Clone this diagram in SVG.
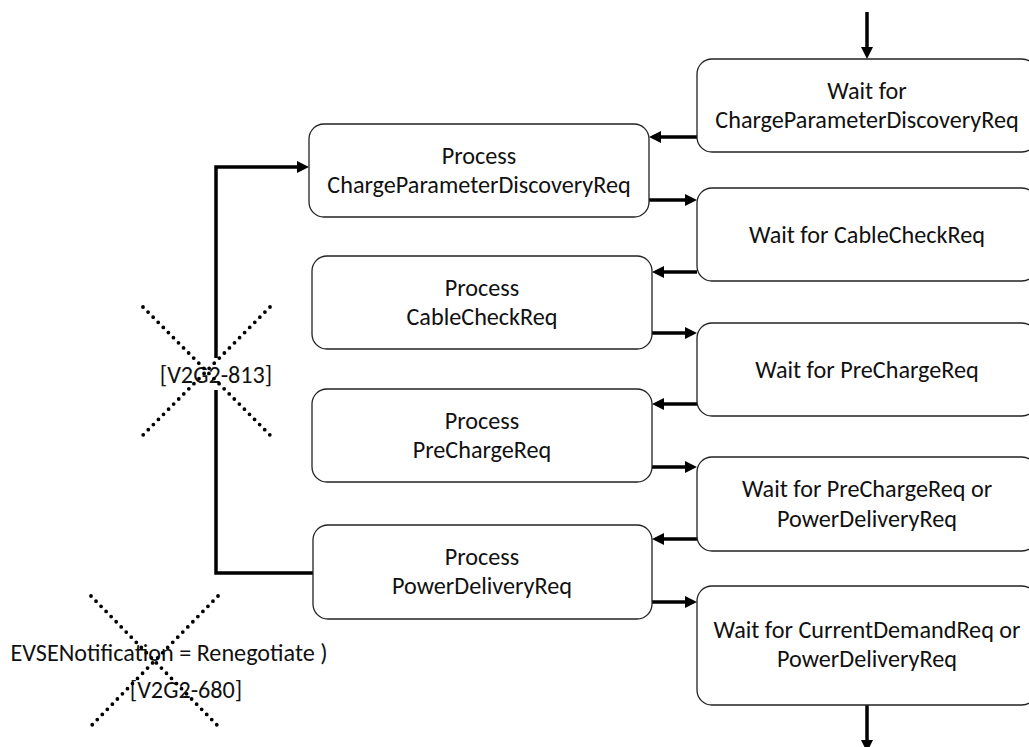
<svg xmlns="http://www.w3.org/2000/svg" width="1029" height="747" viewBox="0 0 1029 747">
<style>
.box{fill:#fff;stroke:#222;stroke-width:1.3}
.t{font-family:Carlito,Calibri,Lato,"Liberation Sans",sans-serif;font-size:24.2px;fill:#111;text-anchor:middle}
.c{fill:none;stroke:#000;stroke-width:3.5}
.x{fill:none;stroke:#000;stroke-width:3.8;stroke-linecap:round;stroke-dasharray:0 7.2}
</style>
<defs>
<marker id="ah" markerUnits="userSpaceOnUse" markerWidth="12" markerHeight="12" refX="4" refY="6" orient="auto">
<path d="M0,0 L12,6 L0,12 z" fill="#000"/>
</marker>
</defs>
<rect width="1029" height="747" fill="#fff"/>
<g id="connectors">
<path class="c" d="M867,12 V51" marker-end="url(#ah)"/>
<path class="c" d="M867,705 V744" marker-end="url(#ah)"/>
<path class="c" d="M697,137 H657" marker-end="url(#ah)"/>
<path class="c" d="M649,200 H689" marker-end="url(#ah)"/>
<path class="c" d="M697,272 H660" marker-end="url(#ah)"/>
<path class="c" d="M652,333 H689" marker-end="url(#ah)"/>
<path class="c" d="M697,404 H660" marker-end="url(#ah)"/>
<path class="c" d="M652,467 H689" marker-end="url(#ah)"/>
<path class="c" d="M697,539 H660" marker-end="url(#ah)"/>
<path class="c" d="M652,602 H689" marker-end="url(#ah)"/>
<path class="c" d="M313,573 H216 V167 H301" marker-end="url(#ah)"/>
</g>
<g id="wait-cpd"><rect class="box" x="697" y="59" width="340" height="93" rx="15"/>
<text class="t" x="867" y="99">Wait for</text><text class="t" x="867" y="128">ChargeParameterDiscoveryReq</text></g>
<g id="wait-cc"><rect class="box" x="697" y="188" width="340" height="93" rx="15"/>
<text class="t" x="867" y="243">Wait for CableCheckReq</text></g>
<g id="wait-pc"><rect class="box" x="697" y="323" width="340" height="93" rx="15"/>
<text class="t" x="867" y="378">Wait for PreChargeReq</text></g>
<g id="wait-pcpd"><rect class="box" x="697" y="457" width="340" height="94" rx="15"/>
<text class="t" x="867" y="497">Wait for PreChargeReq or</text><text class="t" x="867" y="527">PowerDeliveryReq</text></g>
<g id="wait-cd"><rect class="box" x="697" y="586" width="340" height="119" rx="15"/>
<text class="t" x="867" y="638">Wait for CurrentDemandReq or</text><text class="t" x="867" y="667">PowerDeliveryReq</text></g>
<g id="proc-cpd"><rect class="box" x="309" y="124" width="340" height="93" rx="15"/>
<text class="t" x="479" y="164">Process</text><text class="t" x="479" y="193">ChargeParameterDiscoveryReq</text></g>
<g id="proc-cc"><rect class="box" x="312" y="256" width="340" height="93" rx="15"/>
<text class="t" x="482" y="296">Process</text><text class="t" x="482" y="325">CableCheckReq</text></g>
<g id="proc-pc"><rect class="box" x="312" y="389" width="340" height="93" rx="15"/>
<text class="t" x="482" y="429">Process</text><text class="t" x="482" y="458">PreChargeReq</text></g>
<g id="proc-pd"><rect class="box" x="313" y="525" width="339" height="94" rx="15"/>
<text class="t" x="482" y="565">Process</text><text class="t" x="482" y="594">PowerDeliveryReq</text></g>
<g id="label-813">
<rect x="160" y="358" width="112" height="32" fill="#fff"/>
<text class="t" x="216" y="383">[V2G2-813]</text>
<path class="x" d="M143,307 L270,435 M270,307 L143,435"/>
</g>
<g id="label-680">
<text class="t" x="169" y="661">EVSENotification = Renegotiate )</text>
<text class="t" x="186" y="698">[V2G2-680]</text>
<path class="x" d="M91,596 L217,725 M218,596 L92,725"/>
</g>
</svg>
